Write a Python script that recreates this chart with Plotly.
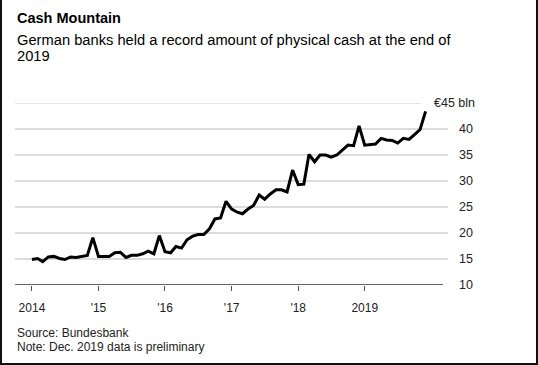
import pandas as pd
import plotly.graph_objects as go

# Monthly cash holdings of German banks, EUR bln (Jan 2014 - Dec 2019)
months = pd.date_range("2014-01-01", periods=72, freq="MS")
values_2014 = [14.9, 15.1, 14.5, 15.4, 15.5, 15.1, 14.9, 15.4, 15.3, 15.5, 15.7, 19.1]
values_2015 = [15.5, 15.5, 15.5, 16.2, 16.3, 15.3, 15.7, 15.7, 16.0, 16.5, 16.0, 19.5]
values_2016 = [16.4, 16.2, 17.4, 17.1, 18.7, 19.4, 19.7, 19.7, 20.8, 22.7, 22.9, 26.1]
values_2017 = [24.6, 24.0, 23.7, 24.6, 25.3, 27.3, 26.5, 27.5, 28.3, 28.3, 27.9, 32.1]
values_2018 = [29.3, 29.4, 35.1, 33.7, 35.0, 35.0, 34.6, 35.0, 35.9, 36.9, 36.8, 40.6]
values_2019 = [36.9, 37.0, 37.1, 38.2, 37.9, 37.8, 37.3, 38.2, 38.0, 38.9, 39.9, 43.4]
values = values_2014 + values_2015 + values_2016 + values_2017 + values_2018 + values_2019

x_tick_vals = ["2014-01-01", "2015-01-01", "2016-01-01", "2017-01-01", "2018-01-01", "2019-01-01"]
x_tick_text = ["2014", "'15", "'16", "'17", "'18", "2019"]
y_tick_vals = [10, 15, 20, 25, 30, 35, 40]
y_tick_text = ["10", "15", "20", "25", "30", "35", "40"]
top_label = "€45 bln"

W, H = 538, 365
L, R, T, B = 15, 90, 103, 80
PW, PH = W - L - R, H - T - B

def px(x):
    return (x - L) / PW

def py(y):
    return (H - B - y) / PH

FONT = "Liberation Sans, Arial, sans-serif"

fig = go.Figure()
fig.add_trace(go.Scatter(
    x=months, y=values, mode="lines",
    line=dict(color="#000000", width=3),
    hoverinfo="skip", showlegend=False,
))

fig.update_layout(
    width=W, height=H,
    margin=dict(l=L, r=R, t=T, b=B),
    paper_bgcolor="white", plot_bgcolor="white",
    font=dict(family=FONT, color="#1a1a1a"),
    xaxis=dict(
        type="date", range=["2013-09-30", "2020-04-02"],
        tickvals=x_tick_vals, ticktext=x_tick_text,
        ticks="outside", ticklen=5, tickwidth=1, tickcolor="#555555",
        ticklabelstandoff=7,
        showgrid=False, zeroline=False, showline=False,
        tickfont=dict(size=12, color="#222222"),
        fixedrange=True,
    ),
    yaxis=dict(
        range=[10, 45], side="right",
        tickvals=y_tick_vals, ticktext=y_tick_text,
        showgrid=True, gridcolor="#dcdcdc", gridwidth=1.5,
        zeroline=False, showline=False, ticks="",
        ticklabelstandoff=10,
        tickfont=dict(size=12.5, color="#222222"),
        fixedrange=True,
    ),
    shapes=[
        # top gridline (shortened for label)
        dict(type="line", xref="paper", yref="y", x0=0, x1=px(421), y0=45, y1=45,
             line=dict(color="#dcdcdc", width=1.5), layer="below"),
        # baseline
        dict(type="line", xref="paper", yref="y", x0=0, x1=px(443), y0=10, y1=10,
             line=dict(color="#333333", width=1.5)),
        # frame
        dict(type="line", xref="paper", yref="paper", x0=px(1), x1=px(1), y0=py(0), y1=py(364),
             line=dict(color="#111111", width=2)),
        dict(type="line", xref="paper", yref="paper", x0=px(537), x1=px(537), y0=py(0), y1=py(364),
             line=dict(color="#111111", width=2)),
        dict(type="line", xref="paper", yref="paper", x0=px(0), x1=px(538), y0=py(364), y1=py(364),
             line=dict(color="#111111", width=2)),
    ],
    annotations=[
        dict(text="<b>Cash Mountain</b>", xref="paper", yref="paper", x=px(15), y=py(18),
             xanchor="left", yanchor="middle", showarrow=False,
             font=dict(size=14.5, color="#000000")),
        dict(text="German banks held a record amount of physical cash at the end of",
             xref="paper", yref="paper", x=px(15), y=py(40),
             xanchor="left", yanchor="middle", showarrow=False, align="left",
             font=dict(size=14.7, color="#000000")),
        dict(text="2019",
             xref="paper", yref="paper", x=px(15), y=py(56),
             xanchor="left", yanchor="middle", showarrow=False, align="left",
             font=dict(size=14.7, color="#000000")),
        dict(text=top_label, xref="paper", yref="y", x=px(432), y=45,
             xanchor="left", yanchor="middle", showarrow=False,
             font=dict(size=12.5, color="#222222")),
        dict(text="Source: Bundesbank",
             xref="paper", yref="paper", x=px(15), y=py(333),
             xanchor="left", yanchor="middle", showarrow=False, align="left",
             font=dict(size=12, color="#222222")),
        dict(text="Note: Dec. 2019 data is preliminary",
             xref="paper", yref="paper", x=px(15), y=py(347),
             xanchor="left", yanchor="middle", showarrow=False, align="left",
             font=dict(size=12, color="#222222")),
    ],
)

fig.write_html(
    "out.html",
    config={"displayModeBar": False, "staticPlot": True},
    post_script="document.body.style.margin='0';document.body.style.overflow='hidden';",
)
